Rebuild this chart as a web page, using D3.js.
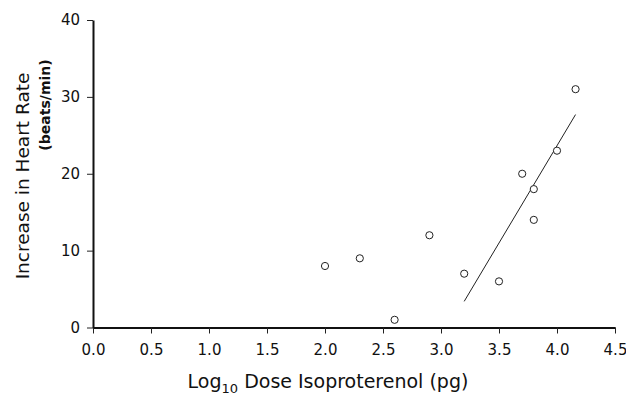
<!DOCTYPE html>
<html><head><meta charset="utf-8">
<script src="https://cdn.jsdelivr.net/npm/d3@7"></script>
<style>body{margin:0;background:#fff}svg{display:block}</style>
</head><body><svg id="c" width="626" height="398"></svg>
<script>
const doseX = [2.0, 2.3, 2.6, 2.9, 3.2, 3.5, 3.7, 3.8, 3.8, 4.0, 4.16];
const rateY = [8, 9, 1, 12, 7, 6, 20, 18, 14, 23, 31];
const fitX = [3.2, 4.16];
const fitY = [3.4, 27.7];
const xTicks = [0.0, 0.5, 1.0, 1.5, 2.0, 2.5, 3.0, 3.5, 4.0, 4.5];
const yTicks = [0, 10, 20, 30, 40];

const svg = d3.select("#c");
const font = "'DejaVu Sans', sans-serif";
const x = d3.scaleLinear().domain([0, 4.5]).range([93, 615]);
const y = d3.scaleLinear().domain([0, 40]).range([327.5, 20]);

const xa = svg.append("g").attr("transform", "translate(0,327.5)")
  .call(d3.axisBottom(x).tickValues(xTicks).tickFormat(d3.format(".1f")).tickSize(6).tickSizeOuter(0));
const ya = svg.append("g").attr("transform", "translate(93,0)")
  .call(d3.axisLeft(y).tickValues(yTicks).tickSize(6).tickSizeOuter(0));
[xa, ya].forEach(g => {
  g.select(".domain").attr("stroke", "#111").attr("stroke-width", 2);
  g.selectAll(".tick line").attr("stroke", "#222").attr("stroke-width", 1);
  g.selectAll("text").attr("fill", "#111").style("font-family", font).style("font-size", "15px");
});
xa.selectAll("text").attr("y", 11).attr("dy", "1.1em");
ya.selectAll("text").attr("x", -13);

svg.append("line")
  .attr("x1", x(fitX[0])).attr("y1", y(fitY[0]))
  .attr("x2", x(fitX[1])).attr("y2", y(fitY[1]))
  .attr("stroke", "#222").attr("stroke-width", 1);

svg.append("g").selectAll("circle").data(doseX.map((d, i) => [d, rateY[i]])).join("circle")
  .attr("cx", d => x(d[0])).attr("cy", d => y(d[1])).attr("r", 3.6)
  .attr("fill", "#fff").attr("stroke", "#222").attr("stroke-width", 1);

const xl = svg.append("text").attr("x", 328).attr("y", 388).attr("text-anchor", "middle")
  .style("font-family", font).style("font-size", "19px").attr("fill", "#111");
xl.append("tspan").text("Log");
xl.append("tspan").attr("dy", 5).style("font-size", "13px").text("10");
xl.append("tspan").attr("dy", -5).text(" Dose Isoproterenol (pg)");

svg.append("text").attr("transform", "translate(29,176) rotate(-90)").attr("text-anchor", "middle")
  .style("font-family", font).style("font-size", "18.5px").attr("fill", "#111").text("Increase in Heart Rate");
svg.append("text").attr("transform", "translate(50,105) rotate(-90)").attr("text-anchor", "middle")
  .style("font-family", font).style("font-size", "14px").style("font-weight", "bold").attr("fill", "#111").text("(beats/min)");
</script></body></html>
